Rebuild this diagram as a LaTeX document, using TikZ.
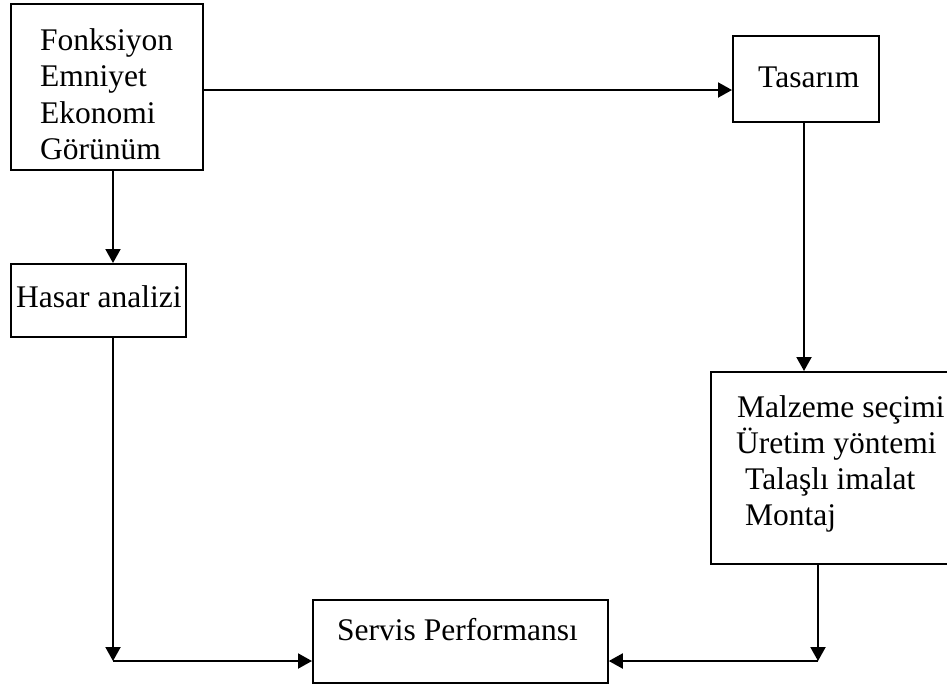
\documentclass[tikz,border=0pt]{standalone}
\usepackage{fontspec}
\setmainfont{Liberation Serif}
\usetikzlibrary{arrows.meta,calc}
\begin{document}
\begin{tikzpicture}[x=1pt,y=-1pt,
  box/.style={draw,line width=1.8pt,rectangle,inner sep=0pt,anchor=north west},
  txt/.style={anchor=base west,inner sep=0pt,font=\fontsize{31.5}{36}\selectfont},
  arr/.style={line width=2pt,-{Triangle[length=14pt,width=15pt]}}]
\useasboundingbox (0,0) rectangle (947,689);
% boxes
\node[box,minimum width=192pt,minimum height=166pt] (b1) at (10,3) {};
\node[box,minimum width=146pt,minimum height=86pt] (tas) at (732,35) {};
\node[box,minimum width=175pt,minimum height=73pt] (has) at (10,263) {};
\node[box,minimum width=245pt,minimum height=192pt] (mal) at (710,371) {};
\node[box,minimum width=295pt,minimum height=83pt] (ser) at (312,599) {};
% texts
\node[txt] (t1a) at (40,50) {Fonksiyon};
\node[txt] (t1b) at (40,86) {Emniyet};
\node[txt] (t1c) at (40,123) {Ekonomi};
\node[txt] (t1d) at (40,159) {Görünüm};
\node[txt] (t2) at (758,87) {Tasarım};
\node[txt] (t3) at (16,307) {Hasar analizi};
\node[txt] (t4a) at (737,417) {Malzeme seçimi};
\node[txt] (t4b) at (736,453) {Üretim yöntemi};
\node[txt] (t4c) at (745,489) {Talaşlı imalat};
\node[txt] (t4d) at (745,525) {Montaj};
\node[txt] (t5) at (337,640) {Servis Performansı};
% corners
\coordinate (c1) at (113,661);
\coordinate (c2) at (818,661);
% connectors
\draw[arr] (b1.east |- 0,90) -- (tas.west |- 0,90);
\draw[arr] (b1.south -| c1) -- (has.north -| c1);
\draw[arr] (tas.south -| 804,0) -- (mal.north -| 804,0);
\draw[arr] (has.south -| c1) -- (c1);
\draw[arr] (c1) -- (ser.west |- c1);
\draw[arr] (mal.south -| c2) -- (c2);
\draw[arr] (c2) -- (ser.east |- c2);
\end{tikzpicture}
\end{document}
